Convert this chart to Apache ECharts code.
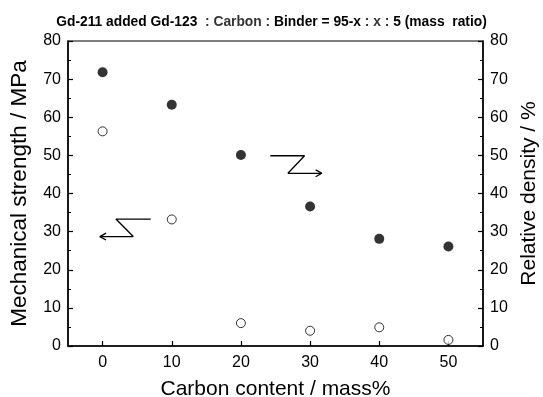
<!DOCTYPE html>
<html>
<head>
<meta charset="utf-8">
<script src="https://cdn.jsdelivr.net/npm/echarts@6/dist/echarts.min.js"></script>
<style>
  html, body { margin: 0; padding: 0; background: #fff; }
  #main { width: 543px; height: 397px; }
</style>
</head>
<body>
<div id="main"></div>
<script>
// carbon content (mass%)
var carbon = [0, 10, 20, 30, 40, 50];
// mechanical strength / MPa (filled circles, left axis)
var strength = [71.8, 63.3, 50.1, 36.6, 28.1, 26.1];
// relative density / % (open circles, right axis)
var density = [56.3, 33.2, 6.0, 4.0, 4.9, 1.6];

// arrows drawn in data coordinates
var arrowLeftZ = [[6.96, 33.3], [1.93, 33.3], [4.43, 28.7], [-0.39, 28.7]];
var arrowLeftHead = [[0.5, 29.6], [-0.39, 28.7], [0.5, 27.8]];
var arrowRightZ = [[24.25, 49.9], [29.2, 49.9], [26.8, 45.3], [31.7, 45.3]];
var arrowRightHead = [[30.8, 46.2], [31.7, 45.3], [30.8, 44.4]];

var chart = echarts.init(document.getElementById('main'));

var pair = function (xs, ys) {
  return xs.map(function (x, i) { return [x, ys[i]]; });
};

var lineSeries = function (pts) {
  return {
    type: 'line',
    data: pts,
    symbol: 'none',
    lineStyle: { color: '#000', width: 1.3 },
    silent: true,
    animation: false,
    z: 3
  };
};

var yAxisBase = {
  type: 'value',
  min: 0,
  max: 80,
  interval: 10,
  axisLine: { show: true, onZero: false, lineStyle: { color: '#000', width: 1.5 } },
  axisTick: { show: true, inside: true, length: 5, lineStyle: { color: '#000', width: 1.2 } },
  minorTick: { show: true, splitNumber: 2, length: 3, lineStyle: { color: '#000', width: 1 } },
  splitLine: { show: false },
  axisLabel: { color: '#000', fontSize: 16, fontFamily: 'Liberation Sans, Arial', margin: 7 },
  nameLocation: 'middle',
  nameTextStyle: { color: '#000', fontSize: 21, fontFamily: 'Liberation Sans, Arial' }
};

var option = {
  backgroundColor: '#fff',
  animation: false,
  title: {
    left: 'center',
    top: 10,
    text: '{b|Gd-211 added Gd-123}{n|  : Carbon : }{b|Binder = 95-x}{n| : x : }{b|5 (mass  ratio)}',
    textStyle: {
      rich: {
        b: { fontSize: 13.8, fontWeight: 'bold', color: '#000', fontFamily: 'Liberation Sans, Arial' },
        n: { fontSize: 13.8, color: '#333', fontFamily: 'Liberation Sans, Arial' }
      }
    }
  },
  grid: {
    left: 68, right: 60, top: 41, bottom: 51,
    containLabel: false,
    outerBoundsMode: 'none',
    show: true, borderColor: '#000', borderWidth: 1.2
  },
  xAxis: {
    type: 'value',
    min: -5,
    max: 55,
    interval: 5,
    axisLine: { show: true, onZero: false, lineStyle: { color: '#000', width: 1.5 } },
    axisTick: {
      show: true, inside: true, length: 5,
      lineStyle: { color: '#000', width: 1.2 },
      customValues: carbon
    },
    splitLine: { show: false },
    axisLabel: {
      color: '#000', fontSize: 16, fontFamily: 'Liberation Sans, Arial', margin: 9,
      customValues: carbon
    },
    name: 'Carbon content / mass%',
    nameLocation: 'middle',
    nameGap: 33,
    nameTextStyle: { color: '#000', fontSize: 21, fontFamily: 'Liberation Sans, Arial' }
  },
  yAxis: [
    Object.assign({}, yAxisBase, {
      position: 'left',
      name: 'Mechanical strength / MPa',
      nameGap: 37,
      nameTextStyle: { color: '#000', fontSize: 22.5, fontFamily: 'Liberation Sans, Arial' }
    }),
    Object.assign({}, yAxisBase, {
      position: 'right',
      name: 'Relative density / %',
      nameGap: 36
    })
  ],
  series: [
    {
      type: 'scatter',
      yAxisIndex: 0,
      data: pair(carbon, strength),
      symbol: 'circle',
      symbolSize: 10,
      itemStyle: { color: '#000' },
      z: 4
    },
    {
      type: 'scatter',
      yAxisIndex: 1,
      data: pair(carbon, density),
      symbol: 'circle',
      symbolSize: 9,
      itemStyle: { color: '#fff', borderColor: '#000', borderWidth: 1 },
      z: 4
    },
    lineSeries(arrowLeftZ),
    lineSeries(arrowLeftHead),
    lineSeries(arrowRightZ),
    lineSeries(arrowRightHead)
  ]
};

chart.setOption(option);
window.onresize = function () { chart.resize(); };
</script>
</body>
</html>
